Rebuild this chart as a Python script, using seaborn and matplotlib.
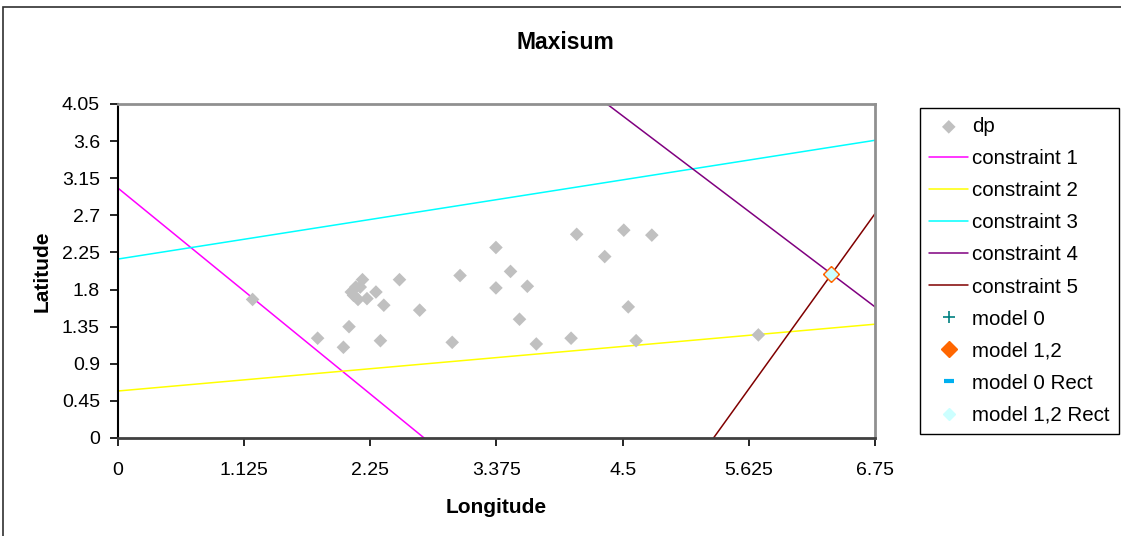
import numpy as np
import pandas as pd
import seaborn as sns
import matplotlib.pyplot as plt
from matplotlib.patches import Rectangle

# DATA
dp_lon = [1.20, 1.78, 2.01, 2.06, 2.08, 2.12, 2.14, 2.18, 2.16, 2.10, 2.22, 2.30,
          2.34, 2.37, 2.51, 2.69, 2.98, 3.05, 3.37, 3.37, 3.50, 3.65, 3.58, 3.73,
          4.04, 4.09, 4.34, 4.51, 4.55, 4.62, 4.76, 5.71]
dp_lat = [1.68, 1.21, 1.10, 1.35, 1.77, 1.83, 1.68, 1.92, 1.83, 1.73, 1.69, 1.77,
          1.18, 1.61, 1.92, 1.55, 1.16, 1.97, 2.31, 1.82, 2.02, 1.84, 1.44, 1.14,
          1.21, 2.47, 2.20, 2.52, 1.59, 1.18, 2.46, 1.25]

c1_lon = [0, 2.73]
c1_lat = [3.03, 0]
c2_lon = [0, 6.75]
c2_lat = [0.57, 1.38]
c3_lon = [0, 6.75]
c3_lat = [2.17, 3.61]
c4_lon = [4.36, 6.75]
c4_lat = [4.05, 1.59]
c5_lon = [5.31, 6.75]
c5_lat = [0, 2.72]

model_lon = [6.36]
model_lat = [1.985]

x_ticks = [0, 1.125, 2.25, 3.375, 4.5, 5.625, 6.75]
x_tick_labels = ["0", "1.125", "2.25", "3.375", "4.5", "5.625", "6.75"]
y_ticks = [0, 0.45, 0.9, 1.35, 1.8, 2.25, 2.7, 3.15, 3.6, 4.05]
y_tick_labels = ["0", "0.45", "0.9", "1.35", "1.8", "2.25", "2.7", "3.15", "3.6", "4.05"]

# STYLE
sns.set_style("ticks")
plt.rcParams["font.family"] = ["Liberation Sans", "DejaVu Sans"]
plt.rcParams["text.color"] = "black"
plt.rcParams["axes.labelcolor"] = "black"
plt.rcParams["xtick.color"] = "black"
plt.rcParams["ytick.color"] = "black"

fig = plt.figure(figsize=(11.21, 5.36), dpi=100)
ax = fig.add_axes([118 / 1121, 1 - 438 / 536, 757 / 1121, 334 / 536])

# DATA POINTS
dp = pd.DataFrame({"Longitude": dp_lon, "Latitude": dp_lat})
sns.scatterplot(data=dp, x="Longitude", y="Latitude", marker="D", s=48,
                color="#C0C0C0", edgecolor="none", label="dp", ax=ax, zorder=3)

# CONSTRAINT LINES
constraints = [
    ("constraint 1", c1_lon, c1_lat, "#FF00FF"),
    ("constraint 2", c2_lon, c2_lat, "#FFFF00"),
    ("constraint 3", c3_lon, c3_lat, "#00FFFF"),
    ("constraint 4", c4_lon, c4_lat, "#800080"),
    ("constraint 5", c5_lon, c5_lat, "#800000"),
]
for name, lon, lat, col in constraints:
    sns.lineplot(x=lon, y=lat, color=col, linewidth=1.1, label=name, ax=ax,
                 sort=False, zorder=2)

# MODELS
ax.plot(model_lon, model_lat, linestyle="none", marker="+", color="#008080",
        markersize=8, markeredgewidth=1.2, label="model 0", zorder=4)
ax.plot(model_lon, model_lat, linestyle="none", marker="D", color="#FF6600",
        markersize=8.5, label="model 1,2", zorder=5)
ax.plot(model_lon, model_lat, linestyle="none", marker="_", color="#00B0F0",
        markersize=7, markeredgewidth=3, label="model 0 Rect", zorder=4)
ax.plot(model_lon, model_lat, linestyle="none", marker="D", color="#CCFFFF",
        markersize=6.5, label="model 1,2 Rect", zorder=6)

# AXES
ax.set_xlim(0, 6.75)
ax.set_ylim(0, 4.05)
ax.set_xticks(x_ticks)
ax.set_xticklabels(x_tick_labels)
ax.set_yticks(y_ticks)
ax.set_yticklabels(y_tick_labels)
ax.tick_params(axis="both", labelsize=14, length=6, width=1.2, color="black",
               labelcolor="black")
ax.tick_params(axis="x", pad=11)
ax.tick_params(axis="y", pad=7)
ax.spines["left"].set_color("black")
ax.spines["left"].set_linewidth(1.5)
ax.spines["bottom"].set_color("#404040")
ax.spines["bottom"].set_linewidth(2)
for s in ["top", "right"]:
    ax.spines[s].set_visible(True)
    ax.spines[s].set_color("#909090")
    ax.spines[s].set_linewidth(2)

ax.set_xlabel("Longitude", fontsize=15, fontweight="bold", labelpad=14)
ax.set_ylabel("Latitude", fontsize=15, fontweight="bold", labelpad=7)
fig.text(565 / 1121, 1 - 42 / 536, "Maxisum", fontsize=16.5, fontweight="bold",
         ha="center", va="center")

# LEGEND
handles, labels = ax.get_legend_handles_labels()
leg = fig.legend(handles, labels, loc="upper left",
                 bbox_to_anchor=(920 / 1121, 1 - 108 / 536),
                 fontsize=14.8, frameon=True, fancybox=False, shadow=False,
                 edgecolor="black", framealpha=1, handlelength=1.9,
                 handletextpad=0.2, labelspacing=0.635, borderpad=0.45,
                 borderaxespad=0)
leg.get_frame().set_linewidth(1.0)
if ax.get_legend():
    ax.get_legend().remove()

# FIGURE BORDER
fig.patches.append(Rectangle((3 / 1121, -0.05), 1.1, 1 - 7 / 536 + 0.05,
                             transform=fig.transFigure, fill=False,
                             edgecolor="#303030", linewidth=1.2))

plt.savefig("out.png", dpi=100)
